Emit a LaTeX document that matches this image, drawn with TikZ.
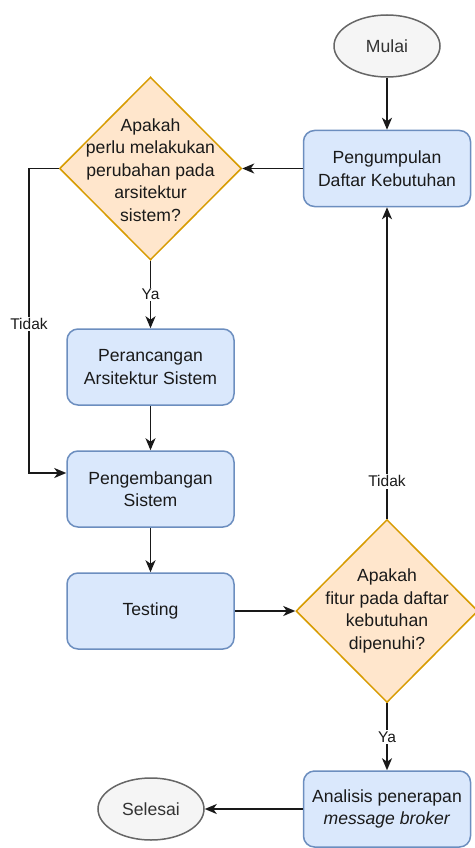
\documentclass[tikz,border=0pt]{standalone}
\usepackage{fontspec}
\setmainfont{Liberation Sans}
\usetikzlibrary{shapes.geometric,arrows.meta}
\definecolor{boxfill}{HTML}{DAE8FC}
\definecolor{boxline}{HTML}{6C8EBF}
\definecolor{decfill}{HTML}{FFE6CC}
\definecolor{decline}{HTML}{D79B00}
\definecolor{endfill}{HTML}{F5F5F5}
\definecolor{endline}{HTML}{666666}
\definecolor{endtext}{HTML}{333333}
\definecolor{txt}{HTML}{1A1A1A}
\begin{document}
\begin{tikzpicture}[x=1pt,y=-1pt,
  mainfont/.style={font=\fontsize{17.6}{22.5}\selectfont},
  process/.style={draw=boxline,fill=boxfill,line width=1.5pt,rounded corners=11pt,
    minimum width=167pt,minimum height=76pt,inner sep=0pt,align=center,mainfont,text=txt},
  terminal/.style={ellipse,draw=endline,fill=endfill,line width=1.5pt,
    minimum width=106pt,minimum height=62pt,inner sep=0pt,mainfont,text=endtext},
  decision/.style={diamond,draw=decline,fill=decfill,line width=1.5pt,
    minimum width=182pt,minimum height=183pt,inner sep=0pt},
  dectext/.style={align=center,mainfont,text=txt,inner sep=0pt},
  flow/.style={draw=black!90,line width=1.8pt,-{Stealth[length=12pt,width=10pt,inset=3.5pt]}},
  edgelabel/.style={fill=white,inner sep=1.5pt,font=\fontsize{15.5}{18}\selectfont,text=txt}
]
\useasboundingbox (0,0) rectangle (474,848);

% start and end
\node[terminal] (mulai) at (387,46) {Mulai};
\node[terminal] (selesai) at (151,809) {Selesai};

% processes
\node[process] (kumpul) at (387,168.5) {Pengumpulan\\Daftar Kebutuhan};
\node[process] (rancang) at (150.5,367) {Perancangan\\Arsitektur Sistem};
\node[process] (kembang) at (150.5,489) {Pengembangan\\Sistem};
\node[process] (testing) at (150.5,611) {Testing};
\node[process] (analisis) at (387,809) {Analisis penerapan\\\textit{message broker}};

% decisions
\node[decision] (cek1) at (150.5,168.5) {};
\node[dectext] (cek1t) at (150.5,170) {Apakah\\perlu melakukan\\perubahan pada\\arsitektur\\sistem?};
\node[decision] (cek2) at (387,611) {};
\node[dectext] (cek2t) at (387,611) {Apakah\\fitur pada daftar\\kebutuhan\\dipenuhi?};

% bend points of the "Tidak" branch on the left
\coordinate (kiri) at (29,168.5);
\coordinate (kiribawah) at (29,473);

% connectors
\draw[flow] (mulai) -- (kumpul);
\draw[flow] (kumpul.west) -- (cek1.east);
\draw[flow] (cek1.south) -- node[edgelabel,pos=0.5] (ya1) {Ya} (rancang.north);
\draw[flow] (cek1.west) -- (kiri) -- node[edgelabel,pos=0.51] (tidak1) {Tidak} (kiribawah) -- (kiribawah -| kembang.west);
\draw[flow] (rancang) -- (kembang);
\draw[flow] (kembang) -- (testing);
\draw[flow] (testing.east) -- (cek2.west);
\draw[flow] (cek2.north) -- node[edgelabel,pos=0.12] (tidak2) {Tidak} (kumpul.south);
\draw[flow] (cek2.south) -- node[edgelabel,pos=0.5] (ya2) {Ya} (analisis.north);
\draw[flow] (analisis.west) -- (selesai.east);
\end{tikzpicture}
\end{document}
